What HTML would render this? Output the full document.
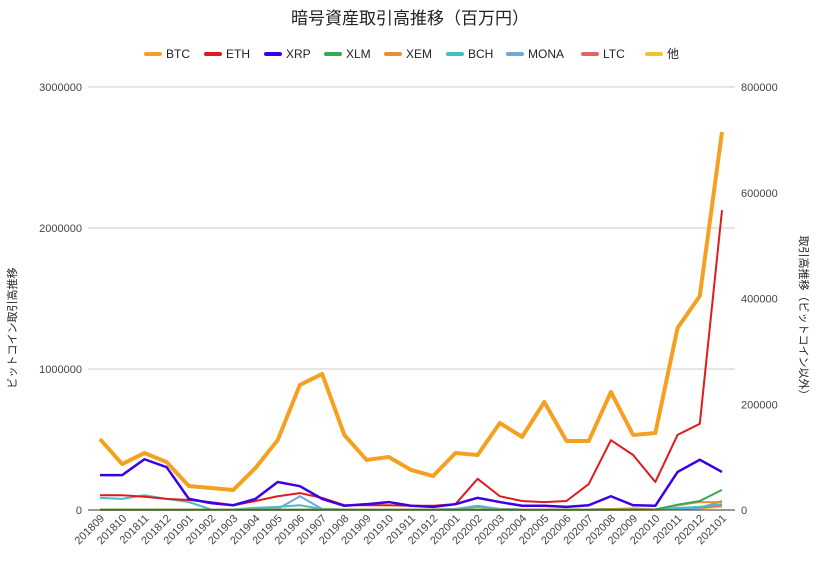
<!DOCTYPE html>
<html><head><meta charset="utf-8"><style>
body{margin:0;background:#fff;}
svg{font-family:"Liberation Sans","Noto Sans CJK JP",sans-serif;display:block}
</style></head><body>
<svg id="c" width="820" height="568">
<text x="410" y="24" text-anchor="middle" font-size="17" fill="#222">暗号資産取引高推移（百万円）</text>
<g id="grid"></g><g id="lines"></g><g id="legend"></g><g id="axes"></g>
<text transform="translate(16,328) rotate(-90)" text-anchor="middle" font-size="11" fill="#222">ビットコイン取引高推移</text>
<text transform="translate(800,318) rotate(90)" text-anchor="middle" font-size="11" fill="#222">取引高推移（ビットコイン以外）</text>
</svg>
<script>
const categories=["201809","201810","201811","201812","201901","201902","201903","201904","201905","201906","201907","201908","201909","201910","201911","201912","202001","202002","202003","202004","202005","202006","202007","202008","202009","202010","202011","202012","202101"];
const btc=[503000,326000,404000,340000,170000,156000,142000,298000,496000,887000,965000,532000,355000,376000,284000,241000,404000,390000,617000,518000,766000,489000,489000,837000,532000,546000,1291000,1518000,2681000];
const eth=[28000,28000,25000,21000,19000,15000,9000,17000,26000,32000,23000,9000,9000,9000,8000,8000,11000,59000,26000,17000,15000,17000,49000,132000,104000,53000,142000,163000,567000];
const xrp=[66000,66000,96000,81000,21000,13000,9000,21000,53000,45000,21000,8000,11000,15000,8000,6000,11000,23000,15000,8000,8000,6000,9000,26000,9000,8000,72000,95000,72000];
const xlm=[500,500,500,500,500,500,500,500,500,500,500,500,500,500,500,500,500,500,500,500,500,500,500,500,500,1000,10000,17000,38000];
const xem=[1000,1000,1000,1000,1000,1000,1000,1000,1000,1000,1000,1000,1000,1000,1000,1000,1000,1000,1000,1000,1000,1000,1000,2000,3000,1000,9000,15000,15000];
const bch=[23000,21000,28000,21000,15000,1000,1000,4000,6000,9000,2000,1000,1000,1000,1000,1000,2000,6000,2000,1000,1000,1000,1000,2000,1000,1000,4000,6000,11000];
const mona=[1000,1000,1000,1000,1000,1000,1000,2000,2000,26000,2000,1000,1000,1000,1000,1000,2000,8000,2000,1000,1000,1000,1000,2000,1000,1000,2000,4000,17000];
const ltc=[1000,1000,1000,1000,1000,1000,1000,1000,1000,1000,1000,1000,1000,1000,1000,1000,1000,1000,1000,1000,1000,1000,1000,1000,1000,1000,3000,4000,9000];
const other=[500,500,500,500,500,500,500,500,500,500,500,500,500,500,500,500,500,500,500,500,500,500,500,500,500,500,2000,3000,6000];
const leftTicks=[0,1000000,2000000,3000000];
const rightTicks=[0,200000,400000,600000,800000];
const legendNames=["BTC","ETH","XRP","XLM","XEM","BCH","MONA","LTC","他"];

const NS="http://www.w3.org/2000/svg";
const X0=100,X1=722,Y0=510,Y1=87;
const xs=i=>X0+(X1-X0)*i/(categories.length-1);
const yL=v=>Y0-(Y0-Y1)*v/3000000;
const yR=v=>Y0-(Y0-Y1)*v/800000;
function mk(t,a,p){const e=document.createElementNS(NS,t);for(const k in a)e.setAttribute(k,a[k]);p.appendChild(e);return e;}
const grid=document.getElementById('grid'),axes=document.getElementById('axes'),lines=document.getElementById('lines'),legend=document.getElementById('legend');
leftTicks.forEach(v=>{
  const l=mk('line',{x1:88,x2:735,y1:yL(v),y2:yL(v),stroke:v?'#ccc':'#333','stroke-width':1},v?grid:axes);
  
  
  const t=mk('text',{x:82,y:yL(v)+4,'text-anchor':'end','font-size':11,fill:'#444'},axes);
  t.textContent=v;
  
  
});
rightTicks.forEach(v=>{
  const t=mk('text',{x:741,y:yR(v)+4,'text-anchor':'start','font-size':11,fill:'#444'},axes);
  t.textContent=v;
  
  
});
categories.forEach((c,i)=>{
  const t=mk('text',{transform:`translate(${xs(i)+5},${519}) rotate(-45)`,'text-anchor':'end','font-size':11,fill:'#444'},axes);
  t.textContent=c;
  
  
});
const series=[
 [other,'#f1c232',2,yR,'series-other'],[ltc,'#e06666',2,yR,'series-ltc'],[mona,'#6fa8dc',2,yR,'series-mona'],
 [bch,'#46bdc6',2,yR,'series-bch'],[xem,'#e69138',2,yR,'series-xem'],[xlm,'#34a853',2,yR,'series-xlm'],
 [eth,'#e01b1b',2,yR,'series-eth'],[xrp,'#3c00e6',2.5,yR,'series-xrp'],[btc,'#f5a020',4,yL,'series-btc']];
series.forEach(s=>{
  const p=mk('polyline',{points:s[0].map((v,i)=>xs(i)+','+s[3](v)).join(' '),fill:'none',stroke:s[1],'stroke-width':s[2],'stroke-linejoin':'round'},lines);
  
  
});
const legCols=['#f5a020','#e01b1b','#3c00e6','#34a853','#e69138','#46bdc6','#6fa8dc','#e06666','#f1c232'];
const legX=[146,206,266,326,386,448,508,583,647];
legendNames.forEach((n,i)=>{
  const g=mk('g',{},legend);
  
  
  mk('line',{x1:legX[i],x2:legX[i]+14,y1:54,y2:54,stroke:legCols[i],'stroke-width':4,'stroke-linecap':'round'},g);
  const t=mk('text',{x:legX[i]+20,y:58,'font-size':12,fill:'#222'},g);
  t.textContent=n;
});
</script>
</body></html>
